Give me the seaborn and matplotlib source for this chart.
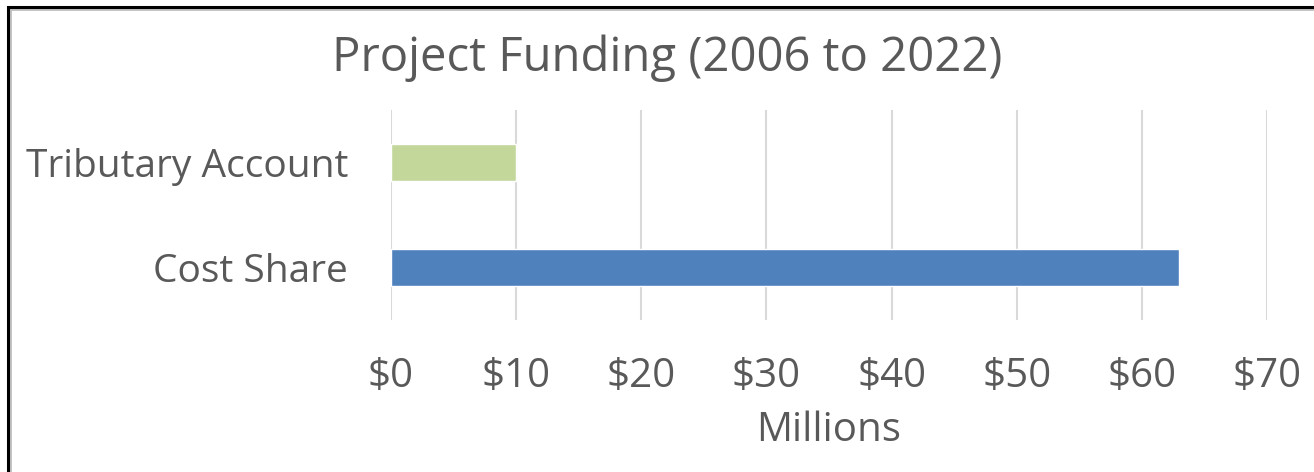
import matplotlib
matplotlib.use("Agg")
import matplotlib.pyplot as plt
import seaborn as sns
import pandas as pd
from matplotlib.patches import Rectangle

categories = ["Tributary Account", "Cost Share"]
values = [10.0, 63.0]
colors = ["#C4D79B", "#4F81BD"]
x_ticks = [0, 10, 20, 30, 40, 50, 60, 70]
x_tick_labels = ["$0", "$10", "$20", "$30", "$40", "$50", "$60", "$70"]

sns.set_theme(style="white")
plt.rcParams['font.family'] = ['Open Sans', 'DejaVu Sans']
text_color = "#595959"

W, H = 1314, 472
fig = plt.figure(figsize=(W / 100, H / 100), dpi=100)
ax = fig.add_axes([391 / W, 1 - 320 / H, (1267 - 391) / W, (320 - 110) / H])

df = pd.DataFrame({"cat": categories, "val": values})
sns.barplot(data=df, y="cat", x="val", hue="cat", palette=colors, orient="h",
            width=0.35, ax=ax, legend=False, saturation=1, zorder=3)

ax.set_xlim(0, 70)
ax.set_ylim(1.5, -0.5)
ax.set_xticks(x_ticks)
ax.set_xticklabels(x_tick_labels)
ax.grid(axis="x", color="#D9D9D9", linewidth=1.5, zorder=0)
ax.set_axisbelow(True)
for s in ax.spines.values():
    s.set_visible(False)
ax.tick_params(axis="x", length=0, pad=26, labelsize=29, colors=text_color)
ax.tick_params(axis="y", length=0, pad=31, labelsize=28, colors=text_color)
ax.set_ylabel("")
ax.set_xlabel("Millions", fontsize=29, color=text_color, labelpad=10)

fig.text(667 / W, 1 - 58 / H, "Project Funding (2006 to 2022)", ha="center", va="center",
         fontsize=34, color=text_color)

# outer border (left & top visible)
fig.patches.append(Rectangle((10 / W, -0.1), 1.2, 1 - 9 / H + 0.1, transform=fig.transFigure,
                             fill=False, edgecolor="#BFBFBF", linewidth=2))
fig.patches.append(Rectangle((8 / W, -0.1), 1.2, 1 - 7 / H + 0.1, transform=fig.transFigure,
                             fill=False, edgecolor="black", linewidth=2.2))

fig.savefig("out.png", dpi=100, facecolor="white")
